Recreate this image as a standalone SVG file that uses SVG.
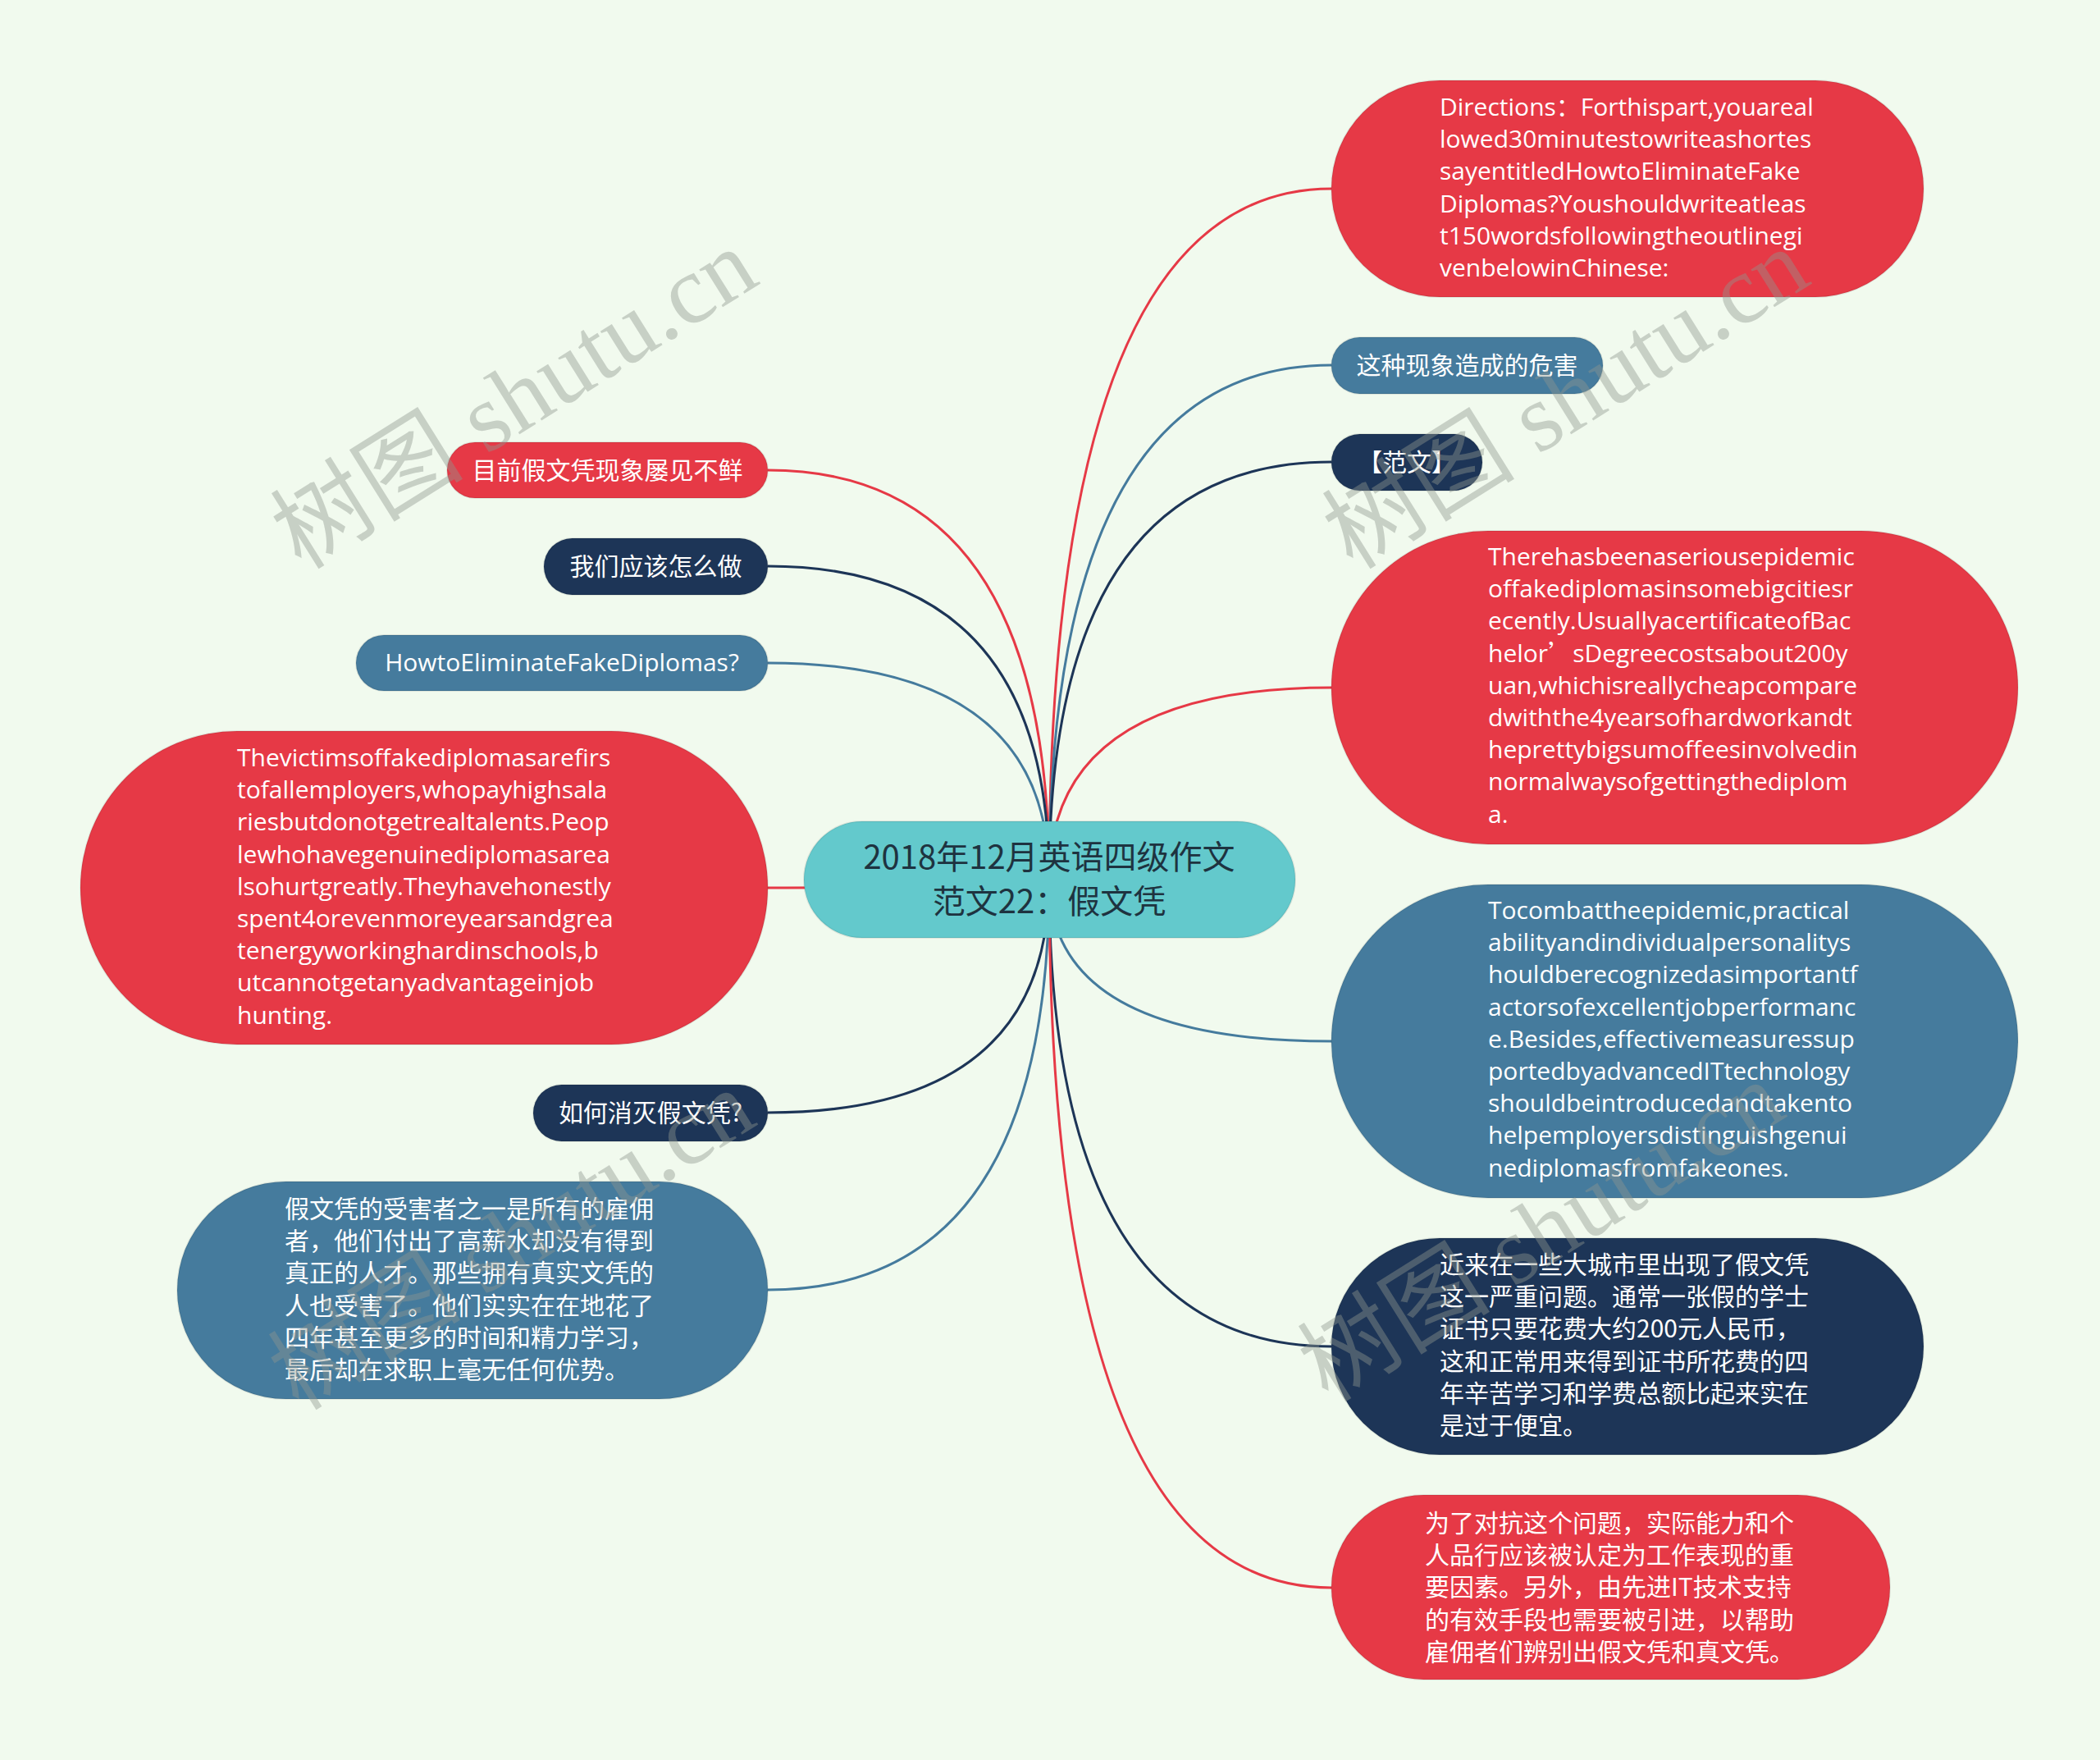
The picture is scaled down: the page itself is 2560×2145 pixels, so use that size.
<svg xmlns="http://www.w3.org/2000/svg" width="2560" height="2145" viewBox="0 0 2560 2145">
<defs>
<style>
.bg{fill:#F1FAEE}
.red{fill:#E63946}
.blue{fill:#457B9D}
.navy{fill:#1D3557}
.center{fill:#63C9CC}
.nd{stroke:rgba(0,0,0,0.08);stroke-width:2}
.lr{stroke:#E63946}
.lb{stroke:#457B9D}
.ln{stroke:#1D3557}
.conn path{fill:none;stroke-width:3}
.en{font-family:"Open Sans","Noto Sans CJK SC",sans-serif;font-size:30px;fill:#FFFFFF}
.cn{font-family:"Noto Sans CJK SC","Noto Sans",sans-serif;font-size:30px;fill:#FFFFFF}
.mid{text-anchor:middle}
.ctext{font-family:"Noto Sans CJK SC","Noto Sans",sans-serif;font-size:40px;fill:#1E3340;text-anchor:middle}
.wm{font-family:"Liberation Serif","Noto Sans CJK SC",serif;font-size:118px;fill:#8F978F;opacity:0.42}
</style>
</defs>
<rect class="bg" x="0" y="0" width="2560" height="2145"/>

<g id="connectors" class="conn">
<path class="lr" d="M1279,1072 Q1279,230 1623,230"/>
<path class="lb" d="M1279,1072 Q1279,445 1623,445"/>
<path class="ln" d="M1279,1072 Q1279,563 1623,563"/>
<path class="lr" d="M1279,1072 Q1279,838 1623,838"/>
<path class="lb" d="M1279,1072 Q1279,1269 1623,1269"/>
<path class="ln" d="M1279,1072 Q1279,1641 1623,1641"/>
<path class="lr" d="M1279,1072 Q1279,1935 1623,1935"/>
<path class="lr" d="M1279,1072 Q1279,573 936,573"/>
<path class="ln" d="M1279,1072 Q1279,690 936,690"/>
<path class="lb" d="M1279,1072 Q1279,808 936,808"/>
<path class="lr" d="M1279,1072 Q1279,1082 936,1082"/>
<path class="ln" d="M1279,1072 Q1279,1356 936,1356"/>
<path class="lb" d="M1279,1072 Q1279,1572 936,1572"/>
</g>

<g id="node-center">
<rect class="center nd" x="980" y="1001" width="599" height="142" rx="71"/>
<text class="ctext" x="1279" y="1059">2018年12月英语四级作文</text>
<text class="ctext" x="1279" y="1113">范文22：假文凭</text>
</g>

<g id="node-directions">
<rect class="red nd" x="1623" y="98" width="722" height="264" rx="132"/>
<text class="en" x="1755" y="141">
<tspan x="1755">Directions：Forthispart,youareal</tspan>
<tspan x="1755" dy="39.2">lowed30minutestowriteashortes</tspan>
<tspan x="1755" dy="39.2">sayentitledHowtoEliminateFake</tspan>
<tspan x="1755" dy="39.2">Diplomas?Youshouldwriteatleas</tspan>
<tspan x="1755" dy="39.2">t150wordsfollowingtheoutlinegi</tspan>
<tspan x="1755" dy="39.2">venbelowinChinese:</tspan>
</text>
</g>

<g id="node-harm">
<rect class="blue nd" x="1623" y="411" width="331" height="69" rx="34.5"/>
<text class="cn mid" x="1788.5" y="456">这种现象造成的危害</text>
</g>

<g id="node-fanwen">
<rect class="navy nd" x="1623" y="529" width="184" height="69" rx="34.5"/>
<text class="cn mid" x="1715" y="574">【范文】</text>
</g>

<g id="node-therehas">
<rect class="red nd" x="1623" y="647" width="837" height="382" rx="191"/>
<text class="en" x="1814" y="689">
<tspan x="1814">Therehasbeenaseriousepidemic</tspan>
<tspan x="1814" dy="39.2">offakediplomasinsomebigcitiesr</tspan>
<tspan x="1814" dy="39.2">ecently.UsuallyacertificateofBac</tspan>
<tspan x="1814" dy="39.2">helor<tspan style="font-family:'Noto Sans CJK SC',sans-serif">’</tspan>sDegreecostsabout200y</tspan>
<tspan x="1814" dy="39.2">uan,whichisreallycheapcompare</tspan>
<tspan x="1814" dy="39.2">dwiththe4yearsofhardworkandt</tspan>
<tspan x="1814" dy="39.2">heprettybigsumoffeesinvolvedin</tspan>
<tspan x="1814" dy="39.2">normalwaysofgettingthediplom</tspan>
<tspan x="1814" dy="39.2">a.</tspan>
</text>
</g>

<g id="node-tocombat">
<rect class="blue nd" x="1623" y="1078" width="837" height="382" rx="191"/>
<text class="en" x="1814" y="1120">
<tspan x="1814">Tocombattheepidemic,practical</tspan>
<tspan x="1814" dy="39.2">abilityandindividualpersonalitys</tspan>
<tspan x="1814" dy="39.2">houldberecognizedasimportantf</tspan>
<tspan x="1814" dy="39.2">actorsofexcellentjobperformanc</tspan>
<tspan x="1814" dy="39.2">e.Besides,effectivemeasuressup</tspan>
<tspan x="1814" dy="39.2">portedbyadvancedITtechnology</tspan>
<tspan x="1814" dy="39.2">shouldbeintroducedandtakento</tspan>
<tspan x="1814" dy="39.2">helpemployersdistinguishgenui</tspan>
<tspan x="1814" dy="39.2">nediplomasfromfakeones.</tspan>
</text>
</g>

<g id="node-jinlai">
<rect class="navy nd" x="1623" y="1509" width="722" height="264" rx="132"/>
<text class="cn" x="1755" y="1552">
<tspan x="1755">近来在一些大城市里出现了假文凭</tspan>
<tspan x="1755" dy="39.2">这一严重问题。通常一张假的学士</tspan>
<tspan x="1755" dy="39.2">证书只要花费大约200元人民币，</tspan>
<tspan x="1755" dy="39.2">这和正常用来得到证书所花费的四</tspan>
<tspan x="1755" dy="39.2">年辛苦学习和学费总额比起来实在</tspan>
<tspan x="1755" dy="39.2">是过于便宜。</tspan>
</text>
</g>

<g id="node-weile">
<rect class="red nd" x="1623" y="1822" width="681" height="225" rx="112.5"/>
<text class="cn" x="1737" y="1867">
<tspan x="1737">为了对抗这个问题，实际能力和个</tspan>
<tspan x="1737" dy="39.2">人品行应该被认定为工作表现的重</tspan>
<tspan x="1737" dy="39.2">要因素。另外，由先进IT技术支持</tspan>
<tspan x="1737" dy="39.2">的有效手段也需要被引进，以帮助</tspan>
<tspan x="1737" dy="39.2">雇佣者们辨别出假文凭和真文凭。</tspan>
</text>
</g>

<g id="node-muqian">
<rect class="red nd" x="545" y="539" width="391" height="68" rx="34"/>
<text class="cn mid" x="740.5" y="584">目前假文凭现象屡见不鲜</text>
</g>

<g id="node-women">
<rect class="navy nd" x="663" y="656" width="273" height="69" rx="34.5"/>
<text class="cn mid" x="799.5" y="701">我们应该怎么做</text>
</g>

<g id="node-howto">
<rect class="blue nd" x="434" y="774" width="502" height="68" rx="34"/>
<text class="en mid" x="685" y="818">HowtoEliminateFakeDiplomas?</text>
</g>

<g id="node-victims">
<rect class="red nd" x="98" y="891" width="838" height="382" rx="191"/>
<text class="en" x="289" y="934">
<tspan x="289">Thevictimsoffakediplomasarefirs</tspan>
<tspan x="289" dy="39.2">tofallemployers,whopayhighsala</tspan>
<tspan x="289" dy="39.2">riesbutdonotgetrealtalents.Peop</tspan>
<tspan x="289" dy="39.2">lewhohavegenuinediplomasarea</tspan>
<tspan x="289" dy="39.2">lsohurtgreatly.Theyhavehonestly</tspan>
<tspan x="289" dy="39.2">spent4orevenmoreyearsandgrea</tspan>
<tspan x="289" dy="39.2">tenergyworkinghardinschools,b</tspan>
<tspan x="289" dy="39.2">utcannotgetanyadvantageinjob</tspan>
<tspan x="289" dy="39.2">hunting.</tspan>
</text>
</g>

<g id="node-ruhe">
<rect class="navy nd" x="650" y="1322" width="286" height="69" rx="34.5"/>
<text class="cn mid" x="793" y="1367">如何消灭假文凭?</text>
</g>

<g id="node-shouhai">
<rect class="blue nd" x="216" y="1440" width="720" height="265" rx="132.5"/>
<text class="cn" x="347" y="1484">
<tspan x="347">假文凭的受害者之一是所有的雇佣</tspan>
<tspan x="347" dy="39.2">者，他们付出了高薪水却没有得到</tspan>
<tspan x="347" dy="39.2">真正的人才。那些拥有真实文凭的</tspan>
<tspan x="347" dy="39.2">人也受害了。他们实实在在地花了</tspan>
<tspan x="347" dy="39.2">四年甚至更多的时间和精力学习，</tspan>
<tspan x="347" dy="39.2">最后却在求职上毫无任何优势。</tspan>
</text>
</g>

<g id="watermarks">
<text class="wm mid" transform="translate(648,520) rotate(-32)">树图 shutu.cn</text>
<text class="wm mid" transform="translate(1930,520) rotate(-32)">树图 shutu.cn</text>
<text class="wm mid" transform="translate(645,1545) rotate(-32)">树图 shutu.cn</text>
<text class="wm mid" transform="translate(1900,1535) rotate(-32)">树图 shutu.cn</text>
</g>
</svg>
